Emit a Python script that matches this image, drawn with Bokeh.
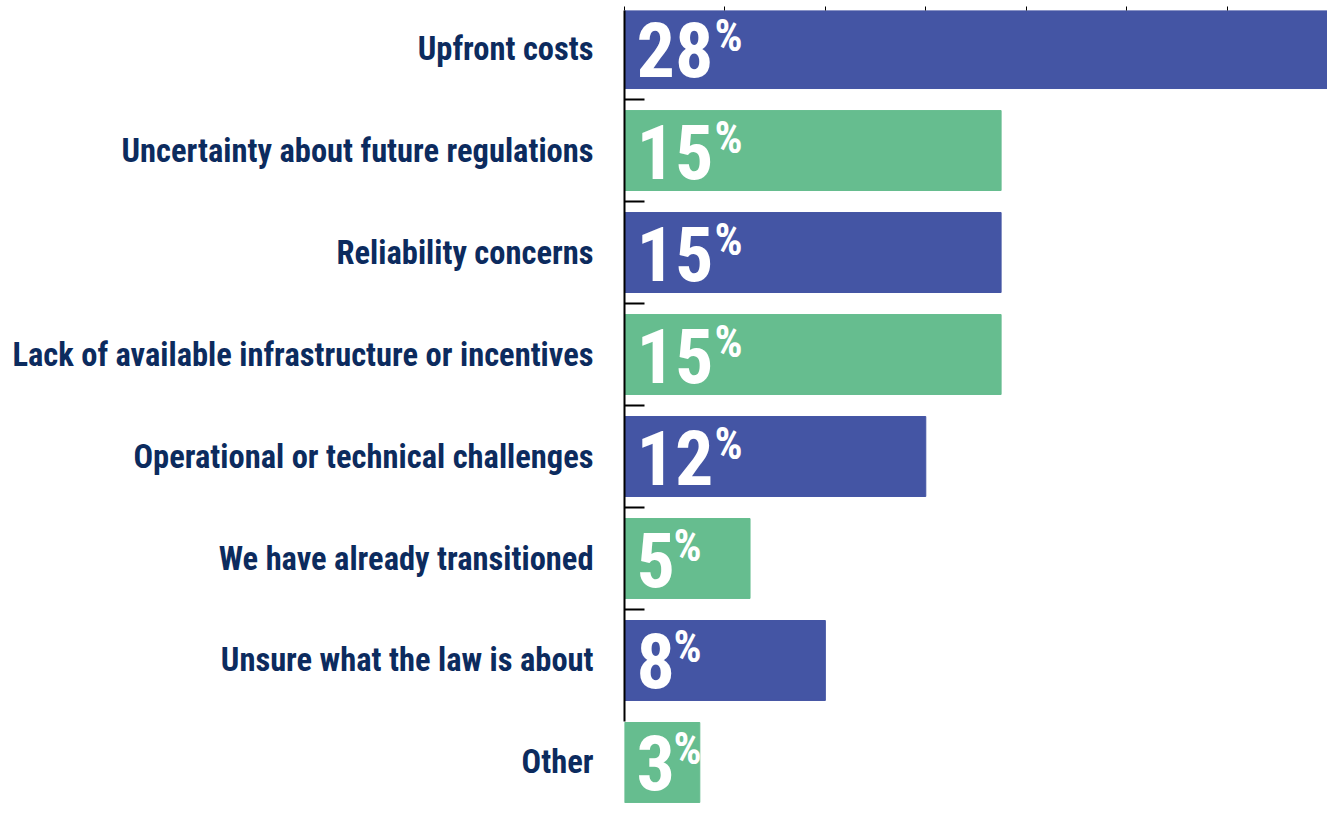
from bokeh.plotting import figure
from bokeh.models import Range1d, LinearAxis, FixedTicker, ColumnDataSource
from bokeh.core.properties import value
from bokeh.embed import file_html
from bokeh.resources import INLINE

categories = [
    "Upfront costs",
    "Uncertainty about future regulations",
    "Reliability concerns",
    "Lack of available infrastructure or incentives",
    "Operational or technical challenges",
    "We have already transitioned",
    "Unsure what the law is about",
    "Other",
]
percent_values = [28, 15, 15, 15, 12, 5, 8, 3]
bar_colors = ["#4455A4", "#66BD8F", "#4455A4", "#66BD8F", "#4455A4", "#66BD8F", "#4455A4", "#66BD8F"]
top_ticks = [0, 4, 8, 12, 16, 20, 24, 28]

FONT = "Liberation Sans Narrow, Roboto Condensed, DejaVu Sans Condensed, sans-serif"
NAVY = "#0C2B5E"

n = len(categories)
ypos = [n - i - 0.5 for i in range(n)]          # first category on top
labels = [str(v) for v in percent_values]
pct_off = [8 + 41 * len(s) for s in labels]
bound_ticks = list(range(2, n))

src = ColumnDataSource(dict(y=ypos, cat=categories, val=percent_values, color=bar_colors,
                            label=labels, pct_off=pct_off))

p = figure(width=1327, height=814,
           y_range=Range1d(-0.01, 7.873),
           x_range=Range1d(0, 28),
           x_axis_location="above",
           output_backend="svg", toolbar_location=None,
           min_border_left=624, min_border_right=0, min_border_top=10, min_border_bottom=0)

p.xgrid.visible = False
p.ygrid.visible = False
p.outline_line_color = None

# top axis: ticks only
xa = p.xaxis[0]
xa.ticker = FixedTicker(ticks=top_ticks)
xa.major_label_overrides = {t: "" for t in top_ticks}
xa.major_tick_out = 4
xa.major_tick_in = 0
xa.axis_line_color = None
xa.major_label_text_font_size = "1px"
xa.major_label_standoff = 0
xa.minor_tick_line_color = None
xa.major_tick_line_color = "black"
xa.major_tick_line_width = 1

# boundary-tick axis next to the frame
ta = p.yaxis[0]
ta.ticker = FixedTicker(ticks=bound_ticks)
ta.major_label_overrides = {t: "" for t in bound_ticks}
ta.bounds = (0.9, 7.873)
ta.major_tick_in = 20
ta.major_tick_out = 0
ta.minor_tick_line_color = None
ta.major_label_text_font_size = "1px"
ta.major_label_standoff = 0
ta.axis_line_color = "black"
ta.axis_line_width = 2
ta.major_tick_line_color = "black"
ta.major_tick_line_width = 2

# category label axis
la = LinearAxis(ticker=FixedTicker(ticks=ypos),
                major_label_overrides={y: c for y, c in zip(ypos, categories)},
                axis_line_color=None, major_tick_line_color=None, minor_tick_line_color=None,
                major_tick_in=0, major_tick_out=0, major_label_standoff=31,
                major_label_text_font=FONT, major_label_text_font_size="32.5px",
                major_label_text_font_style="bold", major_label_text_color=NAVY)
p.add_layout(la, "left")

p.hbar(y="y", left=0, right="val", height=0.784, color="color", source=src)

p.text(x=0, y="y", text="label", x_offset=12, y_offset=1,
       text_baseline="middle", text_align="left",
       text_font=value(FONT), text_font_size="76px", text_font_style="bold",
       text_color="white", source=src)
p.text(x=0, y="y", text=value("%"), x_offset="pct_off", y_offset=-39,
       text_baseline="top", text_align="left",
       text_font=value(FONT), text_font_size="44px", text_font_style="bold",
       text_color="white", source=src)

open("out.html", "w").write(file_html(p, INLINE))
